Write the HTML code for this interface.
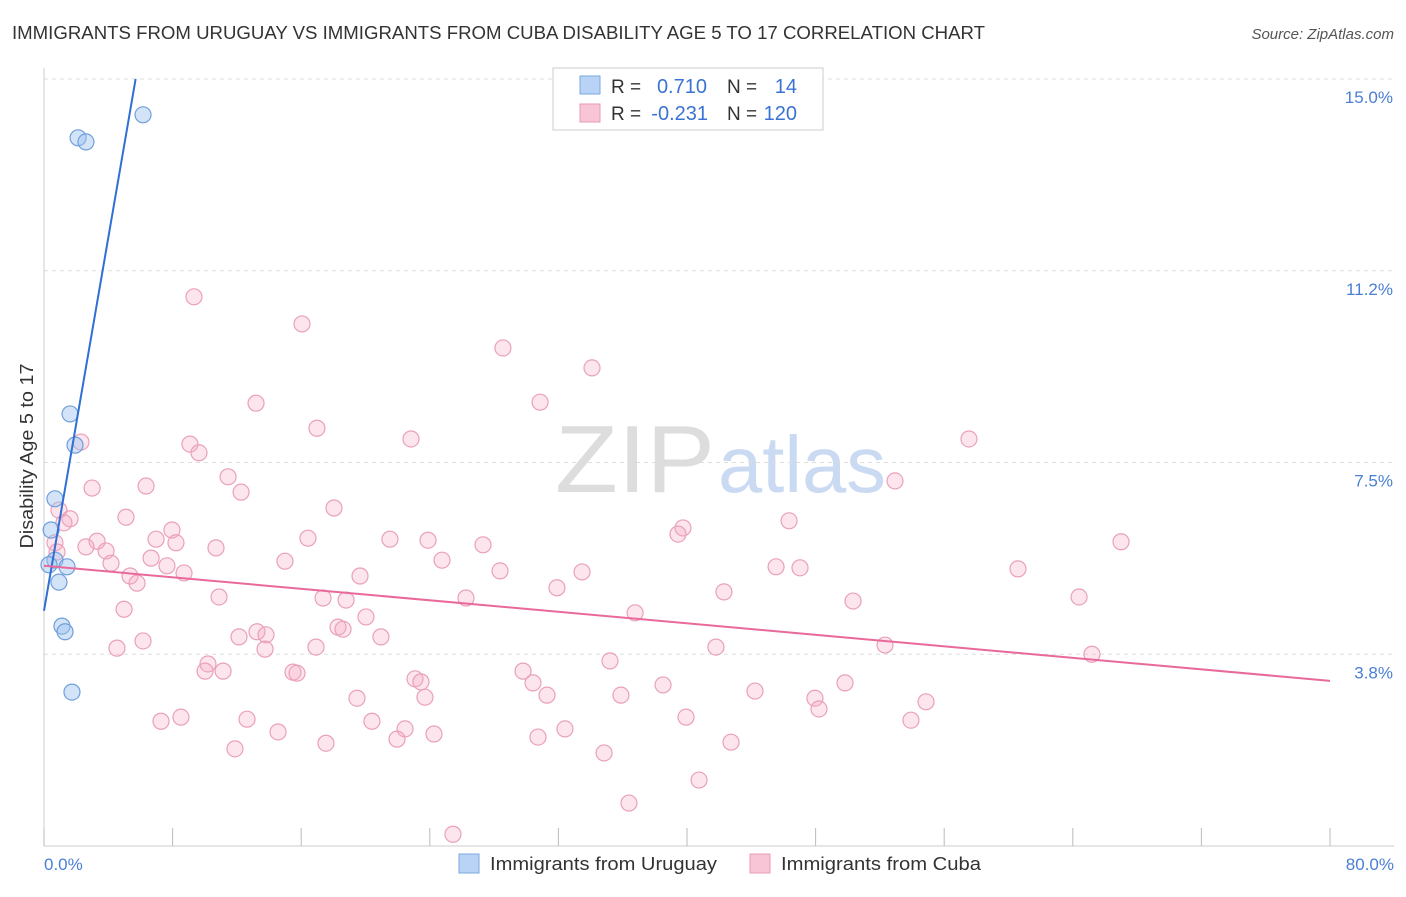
<!DOCTYPE html>
<html><head><meta charset="utf-8"><style>
body{margin:0;background:#fff;font-family:"Liberation Sans",sans-serif;}
svg text{font-family:"Liberation Sans",sans-serif;}
</style></head><body>
<svg id="chart" width="1406" height="892" xmlns="http://www.w3.org/2000/svg">
<text x="12" y="39" font-size="18" fill="#333" textLength="973" lengthAdjust="spacingAndGlyphs">IMMIGRANTS FROM URUGUAY VS IMMIGRANTS FROM CUBA DISABILITY AGE 5 TO 17 CORRELATION CHART</text>
<text x="1394" y="39" font-size="15" fill="#555" text-anchor="end" font-style="italic">Source: ZipAtlas.com</text>
<text x="555" y="492" font-size="96" fill="#ddd" font-family="Liberation Serif" textLength="160" lengthAdjust="spacingAndGlyphs">ZIP</text>
<text x="718" y="492" font-size="80" fill="#c9daf2" textLength="168" lengthAdjust="spacingAndGlyphs">atlas</text>
<g id="grid"></g>
<g id="axes"></g>
<g id="pts"></g>
<g id="lines"></g>
<text transform="translate(33,456) rotate(-90)" font-size="18" fill="#333" text-anchor="middle" textLength="185" lengthAdjust="spacingAndGlyphs">Disability Age 5 to 17</text>
<text x="44" y="870" font-size="17" fill="#4a7fd4">0.0%</text>
<text x="1394" y="870" font-size="17" fill="#4a7fd4" text-anchor="end">80.0%</text>
<g>
<rect x="553" y="68" width="270" height="62" fill="#fff" stroke="#ccc"/>
<rect x="580" y="76" width="20" height="18" fill="#b8d3f5" stroke="#7aa8e0"/>
<rect x="580" y="104" width="20" height="18" fill="#f8c5d6" stroke="#e89ab5"/>
<text x="611" y="93" font-size="19" fill="#333">R =</text>
<text x="707" y="93" font-size="20" fill="#3b73d4" text-anchor="end">0.710</text>
<text x="727" y="93" font-size="19" fill="#333">N =</text>
<text x="797" y="93" font-size="20" fill="#3b73d4" text-anchor="end">14</text>
<text x="611" y="120" font-size="19" fill="#333">R =</text>
<text x="708" y="120" font-size="20" fill="#3b73d4" text-anchor="end">-0.231</text>
<text x="727" y="120" font-size="19" fill="#333">N =</text>
<text x="797" y="120" font-size="20" fill="#3b73d4" text-anchor="end">120</text>
</g>
<g>
<rect x="459" y="854" width="20" height="19" fill="#b8d3f5" stroke="#7aa8e0"/>
<text x="490" y="870" font-size="18" fill="#333" textLength="227" lengthAdjust="spacingAndGlyphs">Immigrants from Uruguay</text>
<rect x="750" y="854" width="20" height="19" fill="#f8c5d6" stroke="#e89ab5"/>
<text x="781" y="870" font-size="18" fill="#333" textLength="200" lengthAdjust="spacingAndGlyphs">Immigrants from Cuba</text>
</g>
</svg>
<script>
const yTicks=[15.0,11.25,7.5,3.75];
const yTickLabels=["15.0%","11.2%","7.5%","3.8%"];
const xTicks=[0,8,16,24,32,40,48,56,64,72,80];
const cubaPx=[[194,297],[302,324],[503,348],[592,368],[256,403],[540,402],[317,428],[411,439],[969,439],[81,442],[190,444],[199,453],[228,477],[895,481],[146,486],[92,488],[241,492],[334,508],[59,510],[126,517],[70,519],[64,523],[789,521],[683,528],[172,530],[678,534],[1121,542],[156,539],[308,538],[390,539],[428,540],[97,541],[55,543],[176,543],[483,545],[86,547],[216,548],[106,551],[57,552],[151,558],[111,563],[285,561],[442,560],[167,566],[776,567],[800,568],[1018,569],[500,571],[582,572],[130,576],[360,576],[184,573],[137,583],[557,588],[724,592],[219,597],[1079,597],[466,598],[323,598],[346,600],[853,601],[124,609],[366,617],[635,613],[338,627],[257,632],[343,629],[266,635],[239,637],[381,637],[143,641],[316,647],[117,648],[265,649],[716,647],[885,645],[1092,654],[610,661],[208,664],[205,671],[223,671],[293,672],[297,673],[523,671],[415,679],[421,682],[533,683],[663,685],[845,683],[547,695],[755,691],[357,698],[425,697],[621,695],[815,698],[926,702],[819,709],[181,717],[161,721],[686,717],[247,719],[372,721],[911,720],[405,729],[278,732],[565,729],[434,734],[538,737],[397,739],[326,743],[731,742],[235,749],[604,753],[699,780],[629,803],[453,834]];
const uruguayPx=[[143,115],[78,138],[86,142],[70,414],[75,445],[55,499],[51,530],[55,560],[49,565],[67,567],[59,582],[62,626],[65,632],[72,692]];
const cubaX=cubaPx.map(p=>+((p[0]-44)*80/1286).toFixed(2));
const cubaY=cubaPx.map(p=>+((846-p[1])*15/767).toFixed(2));
const uruX=uruguayPx.map(p=>+((p[0]-44)*80/1286).toFixed(2));
const uruY=uruguayPx.map(p=>+((846-p[1])*15/767).toFixed(2));
const uruLine=[[0,4.6],[5.7,15.0]];
const cubaLine=[[0,5.48],[80,3.23]];
const X=v=>44+v*1286/80, Y=v=>846-v*767/15;
const NS="http://www.w3.org/2000/svg";
function mk(t,a,p){const e=document.createElementNS(NS,t);for(const k in a)e.setAttribute(k,a[k]);p.appendChild(e);return e;}
const g=document.getElementById('grid');
yTicks.forEach((t,i)=>{
 const l=mk('line',{x1:44,x2:1394,y1:Y(t),y2:Y(t),stroke:'#ddd','stroke-dasharray':'4,4'},g);
 
 
 const tx=mk('text',{x:1393,y:Y(t)+24,'font-size':17,fill:'#4a7fd4','text-anchor':'end'},g);
 tx.textContent=yTickLabels[i];
 
 
});
const a=document.getElementById('axes');
mk('line',{x1:44,x2:44,y1:68,y2:846,stroke:'#ccc'},a);
mk('line',{x1:44,x2:1394,y1:846,y2:846,stroke:'#ccc'},a);
xTicks.forEach(t=>{const l=mk('line',{x1:X(t),x2:X(t),y1:828,y2:846,stroke:'#bbb'},a);
 
 });
const pg=document.getElementById('pts');
cubaX.forEach((x,i)=>{const c=mk('circle',{cx:X(x),cy:Y(cubaY[i]),r:8,fill:'rgba(244,170,195,0.3)',stroke:'#eaa0bb','stroke-width':1.2},pg);
 
 });
uruX.forEach((x,i)=>{const c=mk('circle',{cx:X(x),cy:Y(uruY[i]),r:8,fill:'rgba(160,196,240,0.45)',stroke:'#6f9fdc','stroke-width':1.2},pg);
 
 });
const lg=document.getElementById('lines');
const l1=mk('line',{x1:X(uruLine[0][0]),y1:Y(uruLine[0][1]),x2:X(uruLine[1][0]),y2:Y(uruLine[1][1]),stroke:'#2f6fd6','stroke-width':2},lg);


const l2=mk('line',{x1:X(cubaLine[0][0]),y1:Y(cubaLine[0][1]),x2:X(cubaLine[1][0]),y2:Y(cubaLine[1][1]),stroke:'#e8699a','stroke-width':2},lg);


</script>
</body></html>
